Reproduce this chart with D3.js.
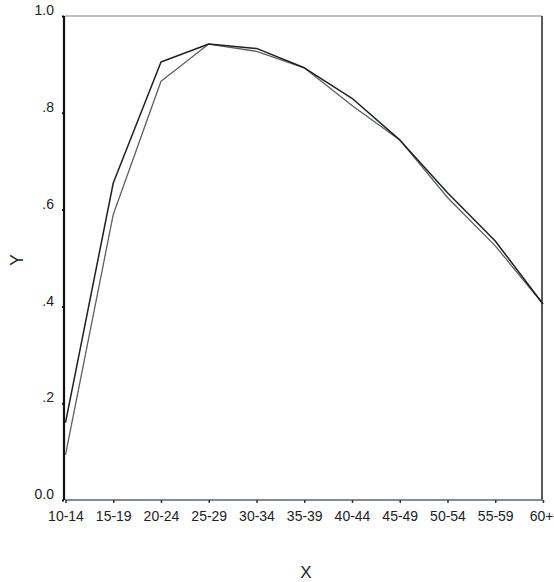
<!DOCTYPE html>
<html>
<head>
<meta charset="utf-8">
<script src="https://cdn.jsdelivr.net/npm/d3@7"></script>
<style>
  html, body { margin: 0; padding: 0; background: #fff; }
  svg { display: block; }
  text { font-family: "Liberation Sans Narrow", "Arial Narrow", "Liberation Sans", Arial, sans-serif; fill: #222; }
</style>
</head>
<body>
<svg id="chart" width="554" height="582"></svg>
<script>
const categories = ["10-14","15-19","20-24","25-29","30-34","35-39","40-44","45-49","50-54","55-59","60+"];
const seriesA = [0.16, 0.655, 0.905, 0.942, 0.933, 0.893, 0.83, 0.744, 0.635, 0.535, 0.405];
const seriesB = [0.093, 0.59, 0.865, 0.942, 0.927, 0.893, 0.815, 0.744, 0.625, 0.525, 0.405];
const yTicks = [0, 0.2, 0.4, 0.6, 0.8, 1.0];
const yTickLabels = ["0.0", ".2", ".4", ".6", ".8", "1.0"];
const xTitle = "X";
const yTitle = "Y";

const svg = d3.select("#chart");
const pLeft = 65, pRight = 542, pTop = 16, pBottom = 500;

const x = d3.scalePoint().domain(categories).range([pLeft + 0.5, pRight + 1]);
const y = d3.scaleLinear().domain([0, 1]).range([pBottom, pTop]);

// top border
svg.append("line").attr("x1", pLeft).attr("x2", pRight).attr("y1", pTop).attr("y2", pTop)
  .attr("stroke", "#7a7f8c").attr("stroke-width", 1.2);
// right border
svg.append("line").attr("x1", pRight).attr("x2", pRight).attr("y1", pTop).attr("y2", pBottom)
  .attr("stroke", "#222").attr("stroke-width", 1.5);

// x axis
const xAxis = d3.axisBottom(x).tickSize(3).tickPadding(8);
const gx = svg.append("g").attr("transform", `translate(0,${pBottom})`).call(xAxis);
gx.select(".domain").attr("stroke", "#5a6470").attr("stroke-width", 1.3)
  .attr("d", `M${pLeft},0H${pRight + 1}`);
gx.selectAll(".tick line").attr("stroke", "#333").attr("stroke-width", 1.5);
gx.selectAll(".tick text").attr("font-size", 14).style("font-family", null).attr("fill", "#222");
gx.selectAll(".tick").filter(d => d === "60+").select("text")
  .attr("text-anchor", "end").attr("x", 10);

// y axis
const yAxis = d3.axisLeft(y).tickValues(yTicks).tickFormat((d, i) => yTickLabels[i]).tickSize(2).tickPadding(8);
const gy = svg.append("g").attr("transform", `translate(${pLeft - 1},0)`).call(yAxis);
gy.select(".domain").attr("stroke", "#111").attr("stroke-width", 2.2)
  .attr("d", `M0,${pTop}V${pBottom}`);
gy.selectAll(".tick line").attr("stroke", "#111").attr("stroke-width", 2);
gy.selectAll(".tick text").attr("font-size", 14).style("font-family", null).attr("fill", "#222").attr("dy", "-0.1em");

// lines
const line = d3.line().x((d, i) => x(categories[i])).y(d => y(d));
svg.append("path").datum(seriesB).attr("d", line)
  .attr("fill", "none").attr("stroke", "#5c5f63").attr("stroke-width", 1.3).attr("stroke-linejoin", "round");
svg.append("path").datum(seriesA).attr("d", line)
  .attr("fill", "none").attr("stroke", "#1e2124").attr("stroke-width", 1.5).attr("stroke-linejoin", "round");

// titles
svg.append("text").attr("x", 306).attr("y", 578).attr("text-anchor", "middle")
  .attr("font-size", 17).text(xTitle);
svg.append("text").attr("transform", "translate(23,260) rotate(-90)").attr("text-anchor", "middle")
  .attr("font-size", 18).text(yTitle);
</script>
</body>
</html>
